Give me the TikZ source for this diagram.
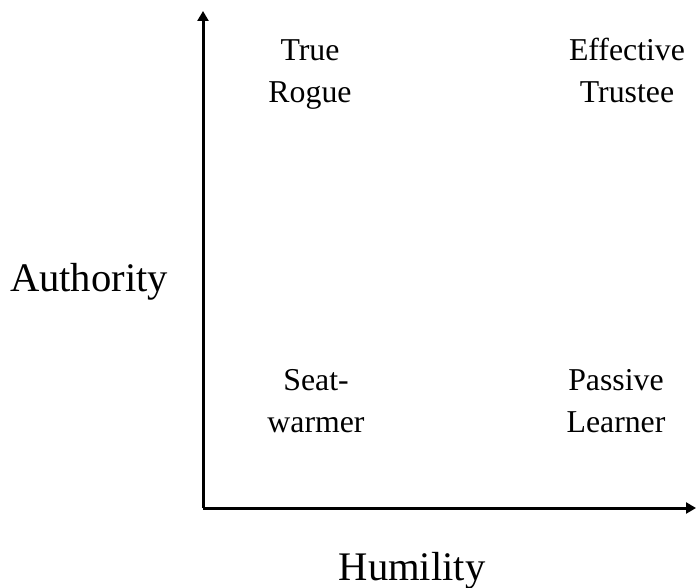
\documentclass[tikz,border=0pt]{standalone}
\usepackage{fontspec}
\setmainfont{Liberation Serif}
\usepackage{tikz}
\usetikzlibrary{arrows.meta, calc, positioning}
\newcommand{\quadrant}[3]{
    \node[quad] (#1) at (#2) {#3};
}
\tikzset{
    quad/.style={anchor=base, align=center, inner sep=0pt, font=\fontsize{31.8}{42}\selectfont},
    axislabel/.style={anchor=base, inner sep=0pt, font=\fontsize{40.6}{48}\selectfont},
    axis/.style={line width=3pt, -{Triangle[length=10pt, width=11pt]}}
}

\begin{document}
\begin{tikzpicture}[x=1pt, y=-1pt]
    \useasboundingbox (0, 0) rectangle (696, 588);
    \coordinate (origin) at (203, 508);
    \coordinate (ytop) at (203, 11);
    \coordinate (xend) at (696, 508);
    \draw[axis] (origin) -- (ytop);
    \draw[axis] (origin) -- (xend);
    \quadrant{rogue}{310, 103}{True\\Rogue}
    \quadrant{trustee}{627, 103}{Effective\\Trustee}
    \quadrant{seat}{316, 432}{Seat-\\warmer}
    \quadrant{passive}{616, 432}{Passive\\Learner}
    \node[axislabel] (authority) at (89, 291) {Authority};
    \node[axislabel] (humility) at (412, 580) {Humility};
\end{tikzpicture}
\end{document}
